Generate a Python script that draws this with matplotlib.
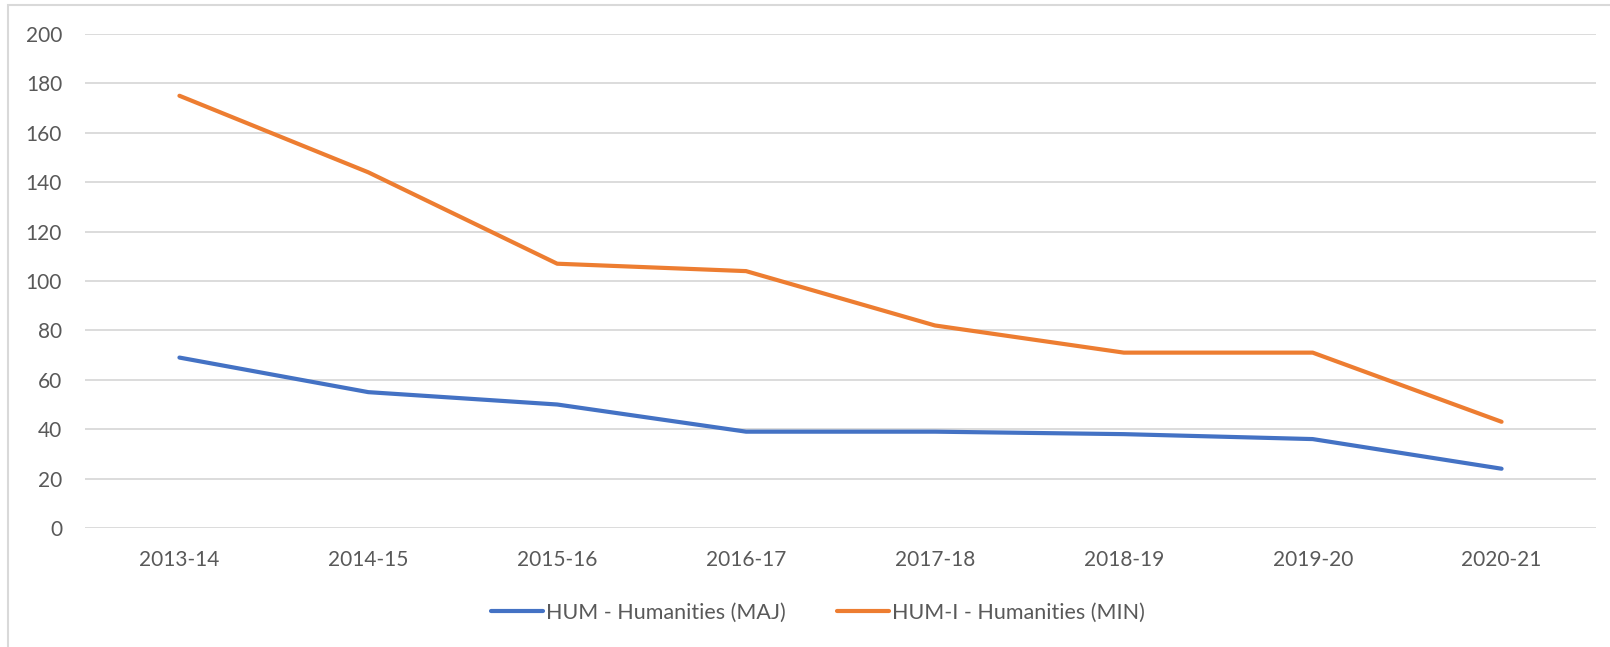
import matplotlib.pyplot as plt
from matplotlib.patches import Rectangle

years = ['2013-14', '2014-15', '2015-16', '2016-17', '2017-18', '2018-19', '2019-20', '2020-21']
hum_maj = [69, 55, 50, 39, 39, 38, 36, 24]
hum_min = [175, 144, 107, 104, 82, 71, 71, 43]
yticks = [0, 20, 40, 60, 80, 100, 120, 140, 160, 180, 200]

plt.rcParams['font.family'] = ['Lato', 'DejaVu Sans']

fig = plt.figure(figsize=(16.10, 6.47), dpi=100)
# outer chart border (only top and left visible in the crop)
fig.patches.append(Rectangle((8 / 1610, -0.1), 1.2, (647 - 5) / 647 + 0.1,
                             transform=fig.transFigure, fill=False,
                             edgecolor='#D9D9D9', linewidth=1.5))

ax = fig.add_axes([85 / 1610, (647 - 528) / 647, 1511 / 1610, 494 / 647])

x = list(range(len(years)))
ax.plot(x, hum_maj, color='#4472C4', linewidth=3.0, solid_capstyle='round',
        solid_joinstyle='round', label='HUM - Humanities (MAJ)', zorder=3)
ax.plot(x, hum_min, color='#ED7D31', linewidth=3.0, solid_capstyle='round',
        solid_joinstyle='round', label='HUM-I - Humanities (MIN)', zorder=3)

ax.set_xlim(-0.5, len(years) - 0.5)
ax.set_ylim(0, 200)
ax.set_yticks(yticks)
ax.set_xticks(x)
ax.set_xticklabels(years)
ax.yaxis.grid(True, color='#D9D9D9', linewidth=1.3)
ax.set_axisbelow(True)
for s in ax.spines.values():
    s.set_visible(False)
ax.tick_params(length=0, labelsize=15, labelcolor='#595959')
ax.tick_params(axis='y', pad=16.5)
ax.tick_params(axis='x', pad=16)

leg = fig.legend(loc='center', bbox_to_anchor=(818 / 1610, (647 - 597 * 1610 / 1568) / 647),
                 ncol=2, frameon=False, fontsize=15.5, handlelength=2.4,
                 handletextpad=0.15, columnspacing=2.4)
for t in leg.get_texts():
    t.set_color('#595959')

fig.savefig('out.png', dpi=100)
